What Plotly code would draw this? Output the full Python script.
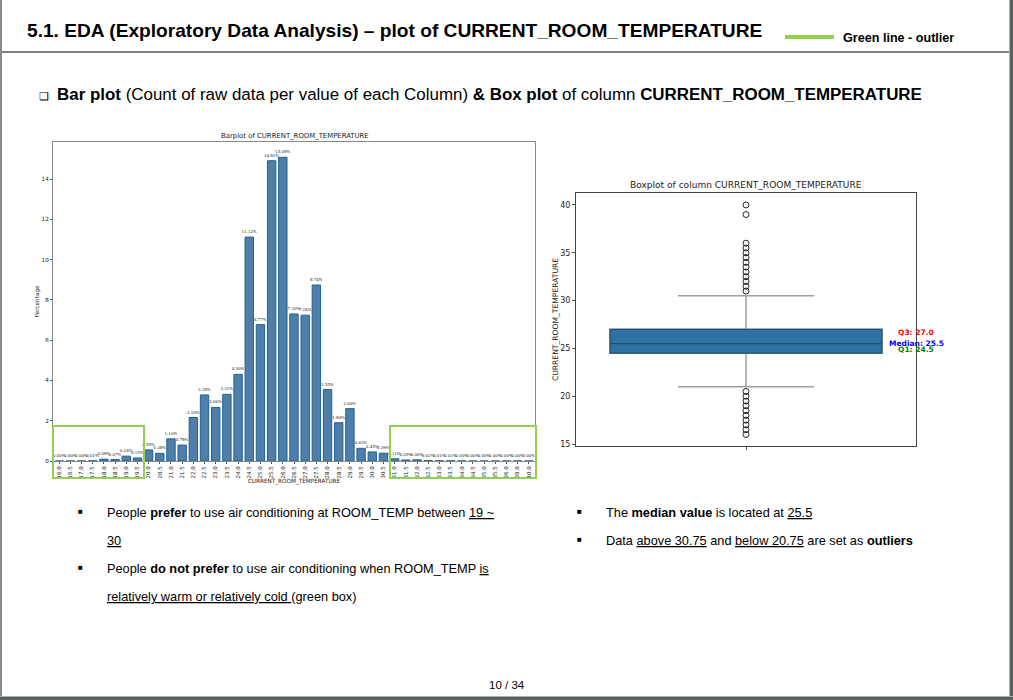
import plotly.graph_objects as go

W, H = 1013, 700

# bar plot values (percent per temperature)
temps = ["16.0", "16.5", "17.0", "17.5", "18.0", "18.5", "19.0", "19.5", "20.0", "20.5", "21.0",
         "21.5", "22.0", "22.5", "23.0", "23.5", "24.0", "24.5", "25.0", "25.5", "26.0", "26.5",
         "27.0", "27.5", "28.0", "28.5", "29.0", "29.5", "30.0", "30.5", "31.0", "31.5", "32.0",
         "32.5", "33.0", "33.5", "34.0", "34.5", "35.0", "35.5", "36.0", "39.0", "40.0"]
percent = [0.00, 0.00, 0.00, 0.01, 0.09, 0.07, 0.24, 0.15, 0.55, 0.38, 1.10,
           0.79, 2.16, 3.28, 2.66, 3.31, 4.30, 11.12, 6.77, 14.91, 15.08, 7.30,
           7.24, 8.74, 3.55, 1.90, 2.60, 0.63, 0.45, 0.39, 0.11, 0.05, 0.06,
           0.02, 0.01, 0.01, 0.00, 0.00, 0.00, 0.00, 0.00, 0.00, 0.00]

# box plot stats
q1 = 24.5
median = 25.5
q3 = 27.0
low_whisker = 21.0
high_whisker = 30.5
outliers = [16, 16.5, 17, 17.5, 18, 18.5, 19, 19.5, 20, 20.5,
            31, 31.5, 32, 32.5, 33, 33.5, 34, 34.5, 35, 35.5, 36, 39, 40]


def fx(px):
    return px / W


def fy(px):
    return 1 - px / H


fig = go.Figure()

fig.add_trace(go.Bar(
    x=temps, y=percent,
    marker=dict(color="#4f7fa8", line=dict(color="#1f6394", width=1)),
    width=0.75,
    text=[f"{v:.2f}%" for v in percent],
    textposition="outside",
    constraintext="none",
    cliponaxis=False,
    textfont=dict(family="DejaVu Serif", size=4, color="#222222"),
    xaxis="x", yaxis="y",
))

# whiskers in grey
fig.add_trace(go.Box(
    x=[0], q1=[q1], median=[median], q3=[q3],
    lowerfence=[low_whisker], upperfence=[high_whisker],
    width=0.8, whiskerwidth=0.5,
    fillcolor="#2f72a4",
    line=dict(color="#a0a0a0", width=1.5),
    boxpoints=False,
    xaxis="x2", yaxis="y2",
))
# box body again on top, darker outline
fig.add_trace(go.Box(
    x=[0], q1=[q1], median=[median], q3=[q3],
    lowerfence=[q1], upperfence=[q3],
    width=0.8, whiskerwidth=0,
    fillcolor="#2f72a4",
    line=dict(color="#24506f", width=1.2),
    boxpoints=False,
    xaxis="x2", yaxis="y2",
))
fig.add_trace(go.Scatter(
    x=[0] * len(outliers), y=outliers, mode="markers",
    marker=dict(symbol="circle-open", size=6, color="#111111", line=dict(width=0.9)),
    xaxis="x2", yaxis="y2",
))

layout_text = [
    # text, x, y, size, anchor
    ("<b>5.1. EDA (Exploratory Data Analysis) – plot of CURRENT_ROOM_TEMPERATURE</b>", 27, 30.5, 19.15, "left"),
    ("<b>Green line - outlier</b>", 843, 38, 12.6, "left"),
    ("❑", 39, 96, 11, "left"),
    ("<b>Bar plot</b> (Count of raw data per value of each Column) <b>&amp; Box plot</b> of column <b>CURRENT_ROOM_TEMPERATURE</b>",
     57, 95, 16.93, "left"),
    ("■", 78, 511, 8, "left"),
    ("People <b>prefer</b> to use air conditioning at ROOM_TEMP between <u>19 ~</u>", 107, 512, 12.75, "left"),
    ("<u>30</u>", 107, 540, 12.75, "left"),
    ("■", 78, 567, 8, "left"),
    ("People <b>do not prefer</b> to use air conditioning when ROOM_TEMP <u>is</u>", 107, 568, 12.75, "left"),
    ("<u>relatively warm or relatively cold </u>(green box)", 107, 596, 12.75, "left"),
    ("■", 577, 511, 8, "left"),
    ("The <b>median value</b> is located at <u>25.5</u>", 606, 512, 12.75, "left"),
    ("■", 577, 539, 8, "left"),
    ("Data <u>above 30.75</u> and <u>below 20.75</u> are set as <b>outliers</b>", 606, 540, 12.75, "left"),
    ("10 / 34", 507, 685, 11.5, "center"),
]
annotations = [
    dict(text=t, x=fx(x), y=fy(y), xref="paper", yref="paper", xanchor=a, yanchor="middle",
         borderpad=0, borderwidth=0,
         showarrow=False, font=dict(family="Liberation Sans", size=s, color="black"))
    for t, x, y, s, a in layout_text
]

# chart titles
for t, x, y, s in [("Barplot of CURRENT_ROOM_TEMPERATURE", 294.5, 136, 6.9),
                   ("Boxplot of column CURRENT_ROOM_TEMPERATURE", 746, 185, 9.05)]:
    annotations.append(dict(text=t, x=fx(x), y=fy(y), xref="paper", yref="paper", showarrow=False,
                            xanchor="center", yanchor="middle",
                            font=dict(family="DejaVu Sans", size=s, color="#222222")))

# Q labels next to the box
for t, val, shift, col in [(f"Q3: {q3}", q3, -3, "red"), (f"Median: {median}", median, 0, "blue"),
                           (f"Q1: {q1}", q1, 4, "green")]:
    annotations.append(dict(text=f"<b>{t}</b>", x=0.5, y=val, xref="x2", yref="y2", xanchor="center",
                            yshift=shift, showarrow=False,
                            font=dict(family="DejaVu Sans", size=7.5, color=col)))

shapes = [
    dict(type="rect", xref="paper", yref="paper", x0=fx(53), x1=fx(144), y0=fy(426), y1=fy(478),
         line=dict(color="#92d050", width=2)),
    dict(type="rect", xref="paper", yref="paper", x0=fx(390), x1=fx(536), y0=fy(426), y1=fy(478),
         line=dict(color="#92d050", width=2)),
    dict(type="line", xref="paper", yref="paper", x0=0, x1=fx(1009), y0=fy(52), y1=fy(52),
         line=dict(color="black", width=1)),
    dict(type="line", xref="paper", yref="paper", x0=fx(785), x1=fx(834), y0=fy(37), y1=fy(37),
         line=dict(color="#92d050", width=4)),
    # slide edges of the screenshot
    dict(type="rect", xref="paper", yref="paper", x0=0, x1=fx(2), y0=0, y1=1,
         fillcolor="#8a8a8a", line=dict(width=0)),
    dict(type="rect", xref="paper", yref="paper", x0=fx(1009), x1=fx(1010), y0=0, y1=1,
         fillcolor="#b0b0b0", line=dict(width=0)),
    dict(type="rect", xref="paper", yref="paper", x0=fx(1010), x1=1, y0=0, y1=1,
         fillcolor="#59625f", line=dict(width=0)),
    dict(type="rect", xref="paper", yref="paper", x0=0, x1=1, y0=fy(697), y1=fy(696),
         fillcolor="#b0b0b0", line=dict(width=0)),
    dict(type="rect", xref="paper", yref="paper", x0=0, x1=1, y0=0, y1=fy(697),
         fillcolor="#59625f", line=dict(width=0)),
]

# template turns automargin on, that shrinks the plot area by a few px
bar_axis = dict(showline=True, linecolor="#888888", linewidth=1, mirror=True, showgrid=False, zeroline=False, automargin=False)
box_axis = dict(showline=True, linecolor="#444444", linewidth=1, mirror=True, showgrid=False, zeroline=False, automargin=False)
small_font = dict(family="DejaVu Sans", size=5.7, color="#222222")

fig.update_layout(
    width=W, height=H,
    margin=dict(l=0, r=0, t=0, b=0),
    autosize=False,
    paper_bgcolor="white", plot_bgcolor="white",
    showlegend=False,
    annotations=annotations,
    shapes=shapes,
    xaxis=dict(domain=[fx(53), fx(535)], type="category", tickangle=-90, ticks="outside", ticklen=2,
               tickcolor="#555555", tickwidth=0.7, tickfont=dict(family="DejaVu Sans", size=5.5, color="#222222"),
               title=dict(text="CURRENT_ROOM_TEMPERATURE", font=small_font, standoff=1),
               range=[-0.55, 42.55], **bar_axis),
    yaxis=dict(domain=[fy(461), fy(142)], range=[0, 15.84], tickvals=[0, 2, 4, 6, 8, 10, 12, 14], ticks="outside",
               ticklen=2, tickcolor="#555555", tickwidth=0.7, tickfont=small_font,
               title=dict(text="Percentage", font=small_font, standoff=1),
               **bar_axis),
    xaxis2=dict(domain=[fx(576), fx(916)], range=[-0.5, 0.5], tickvals=[0], ticktext=[""], ticks="outside", ticklen=3,
                tickcolor="#555555", anchor="y2", **box_axis),
    yaxis2=dict(domain=[fy(446), fy(193)], range=[14.8, 41.25], tickvals=[15, 20, 25, 30, 35, 40], ticks="outside",
                ticklen=3, tickcolor="#555555", anchor="x2",
                tickfont=dict(family="DejaVu Sans", size=8, color="#222222"),
                title=dict(text="CURRENT_ROOM_TEMPERATURE", font=dict(family="DejaVu Sans", size=7.6, color="#222222"), standoff=0),
                **box_axis),
)

# page body has an 8px margin by default, drop it so the slide fills the window
fig.write_html("out.html", config=dict(displayModeBar=False),
               post_script="document.body.style.margin='0';document.body.style.overflow='hidden';")
